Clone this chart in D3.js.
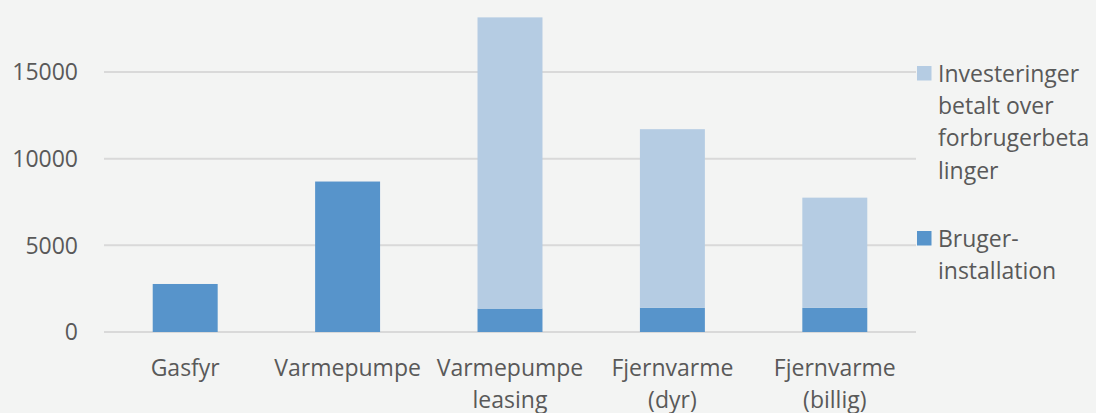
<!DOCTYPE html>
<html>
<head>
<meta charset="utf-8">
<script src="https://cdn.jsdelivr.net/npm/d3@7"></script>
<style>
  html, body { margin: 0; padding: 0; background: #F3F4F3; }
  svg { display: block; }
  text { font-family: "Open Sans", sans-serif; fill: #595959; }
</style>
</head>
<body>
<svg id="chart" width="1096" height="413"></svg>
<script>
const categories = ["Gasfyr", "Varmepumpe", "Varmepumpe leasing", "Fjernvarme (dyr)", "Fjernvarme (billig)"];
const categoryLines = [["Gasfyr"], ["Varmepumpe"], ["Varmepumpe", "leasing"], ["Fjernvarme", "(dyr)"], ["Fjernvarme", "(billig)"]];
const brugerInstallation = [2770, 8680, 1350, 1400, 1400];
const investeringer = [0, 0, 16800, 10300, 6350];
const seriesNames = ["Bruger-installation", "Investeringer betalt over forbrugerbetalinger"];
const yTicks = [0, 5000, 10000, 15000];
const legendLines = [["Investeringer", "betalt over", "forbrugerbeta", "linger"], ["Bruger-", "installation"]];

const colors = { bruger: "#5794CB", invest: "#B5CCE3" };

const svg = d3.select("#chart");
const left = 104, right = 916, bottom = 332;

const x = d3.scaleBand().domain(categories).range([left, right]).paddingInner(0.6).paddingOuter(0.3);
const y = d3.scaleLinear().domain([0, 20000]).range([bottom, bottom - 346.7]);

// gridlines
svg.append("g").selectAll("line").data(yTicks).join("line")
  .attr("x1", left).attr("x2", right)
  .attr("y1", d => y(d)).attr("y2", d => y(d))
  .attr("stroke", "#D9D9D9").attr("stroke-width", 2);

// y tick labels
svg.append("g").selectAll("text").data(yTicks).join("text")
  .attr("x", 78).attr("y", d => y(d))
  .attr("dy", "0.36em")
  .attr("text-anchor", "end")
  .attr("font-size", 23)
  .text(d => d);

const data = categories.map((c, i) => ({ cat: c, bruger: brugerInstallation[i], invest: investeringer[i] }));
const stack = d3.stack().keys(["bruger", "invest"])(data);

svg.append("g").selectAll("g").data(stack).join("g")
  .attr("fill", s => colors[s.key])
  .selectAll("rect").data(s => s).join("rect")
  .attr("x", d => x(d.data.cat))
  .attr("width", x.bandwidth())
  .attr("y", d => y(d[1]))
  .attr("height", d => Math.max(0, y(d[0]) - y(d[1])));

// x labels
const xl = svg.append("g").selectAll("text").data(categories).join("text")
  .attr("text-anchor", "middle")
  .attr("font-size", 23)
  .attr("x", d => x(d) + x.bandwidth() / 2)
  .attr("y", 376);
xl.each(function(d, i) {
  d3.select(this).selectAll("tspan").data(categoryLines[i]).join("tspan")
    .attr("x", x(d) + x.bandwidth() / 2)
    .attr("dy", (t, j) => j === 0 ? 0 : 32.4)
    .text(t => t);
});

// legend
const legend = [
  { key: "invest", lines: legendLines[0], top: 66 },
  { key: "bruger", lines: legendLines[1], top: 231 }
];
const lg = svg.append("g").selectAll("g").data(legend).join("g");
lg.append("rect")
  .attr("x", 917).attr("y", d => d.top)
  .attr("width", 14.5).attr("height", 14.5)
  .attr("fill", d => colors[d.key]);
lg.append("text")
  .attr("font-size", 23)
  .attr("x", 938)
  .attr("y", d => d.top + 15.5)
  .selectAll("tspan").data(d => d.lines).join("tspan")
  .attr("x", 938)
  .attr("dy", (t, j) => j === 0 ? 0 : 32.4)
  .text(t => t);
</script>
</body>
</html>
